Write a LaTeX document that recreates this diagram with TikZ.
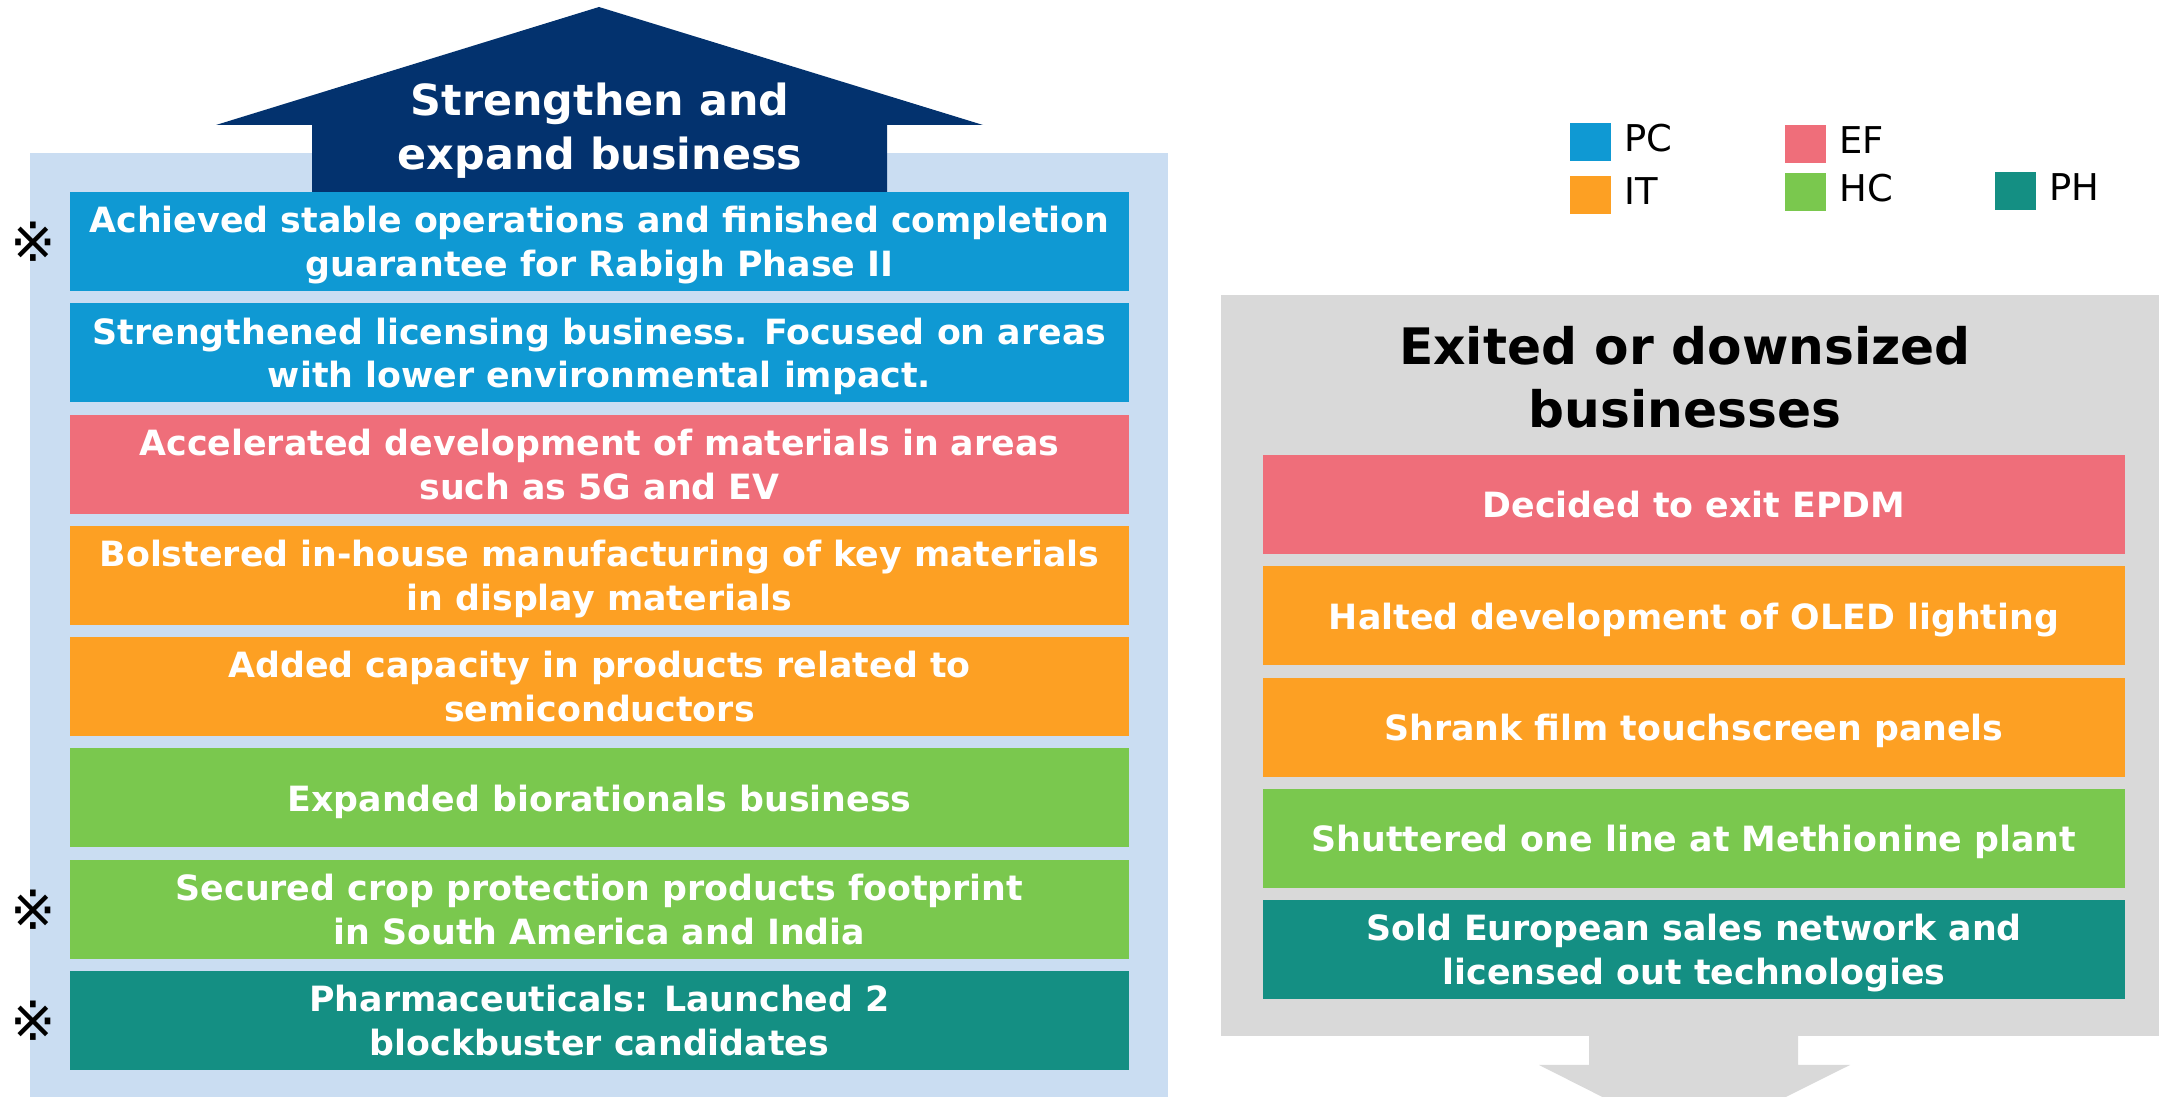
\documentclass[tikz,border=0pt]{standalone}
\usepackage{fontspec}
\setmainfont{DejaVu Sans}
\usetikzlibrary{positioning}
\definecolor{pcblue}{HTML}{0F99D3}
\definecolor{efred}{HTML}{EF6E7A}
\definecolor{itorange}{HTML}{FDA023}
\definecolor{hcgreen}{HTML}{7AC84E}
\definecolor{phteal}{HTML}{148F83}
\definecolor{panelblue}{HTML}{CADDF2}
\definecolor{arrownavy}{HTML}{03326E}
\definecolor{panelgray}{HTML}{D9D9D9}
\begin{document}
\begin{tikzpicture}[
        leftbox/.style={minimum width=10.59cm, minimum height=0.99cm, inner sep=0pt, text depth=0pt, align=center, text=white, font=\bfseries\fontsize{9.9}{12.5}\selectfont},
        rightbox/.style={leftbox, minimum width=8.62cm},
        key/.style={minimum width=0.41cm, minimum height=0.38cm, inner sep=0pt},
        keylabel/.style={right=0.12cm of #1, yshift=0.04cm, inner sep=0pt, font=\fontsize{10.5}{12}\selectfont},
        refmark/.style={inner sep=0pt, font=\fontsize{15.5}{15.5}\selectfont}]
                \useasboundingbox (0,0) rectangle (21.59,10.97);
                \fill [panelblue] (0.30,0) rectangle (11.68,9.44);
                \fill [arrownavy] (2.16,9.72) -- (5.99,10.90) -- (9.83,9.72) -- (8.87,9.72) -- (8.87,9.05) -- (3.12,9.05) -- (3.12,9.72) -- cycle;
                \node [text=white, align=center, font=\bfseries\fontsize{12.2}{15.3}\selectfont] (uptitle) at (6.0,9.66) {Strengthen and\\expand business};
                \node [leftbox, fill=pcblue] (rabigh) at (5.995,8.555) {Achieved stable operations and finished completion\\guarantee for Rabigh Phase II};
                \node [leftbox, fill=pcblue] (licensing) at (5.995,7.442) {Strengthened licensing business. Focused on areas\\with lower environmental impact.};
                \node [leftbox, fill=efred] (materials) at (5.995,6.329) {Accelerated development of materials in areas\\such as 5G and EV};
                \node [leftbox, fill=itorange] (display) at (5.995,5.216) {Bolstered in-house manufacturing of key materials\\in display materials};
                \node [leftbox, fill=itorange] (semicon) at (5.995,4.103) {Added capacity in products related to\\semiconductors};
                \node [leftbox, fill=hcgreen] (biorational) at (5.995,2.990) {Expanded biorationals business};
                \node [leftbox, fill=hcgreen] (crop) at (5.995,1.877) {Secured crop protection products footprint\\in South America and India};
                \node [leftbox, fill=phteal] (pharma) at (5.995,0.764) {Pharmaceuticals: Launched 2\\blockbuster candidates};
                \node [refmark] (markrabigh) at (0.33,8.555) {※};
                \node [refmark] (markcrop) at (0.33,1.877) {※};
                \node [refmark] (markpharma) at (0.33,0.764) {※};
                % legend
                \node [key, fill=pcblue] (pckey) at (15.905,9.55) {};
                \node [key, fill=itorange] (itkey) at (15.905,9.02) {};
                \node [key, fill=efred] (efkey) at (18.055,9.53) {};
                \node [key, fill=hcgreen] (hckey) at (18.055,9.05) {};
                \node [key, fill=phteal] (phkey) at (20.155,9.06) {};
                \node [keylabel=pckey] (pclabel) {PC};
                \node [keylabel=itkey] (itlabel) {IT};
                \node [keylabel=efkey] (eflabel) {EF};
                \node [keylabel=hckey] (hclabel) {HC};
                \node [keylabel=phkey] (phlabel) {PH};
                % exited businesses
                \fill [panelgray] (12.21,0.61) rectangle (21.59,8.02);
                \fill [panelgray] (15.89,0.61) -- (15.89,0.32) -- (15.39,0.32) -- (16.935,-0.46) -- (18.50,0.32) -- (17.98,0.32) -- (17.98,0.61) -- cycle;
                \node [align=center, font=\bfseries\fontsize{14.3}{17.9}\selectfont] (downtitle) at (16.85,7.20) {Exited or downsized\\businesses};
                \node [rightbox, fill=efred] (epdm) at (16.94,5.925) {Decided to exit EPDM};
                \node [rightbox, fill=itorange] (oled) at (16.94,4.812) {Halted development of OLED lighting};
                \node [rightbox, fill=itorange] (touch) at (16.94,3.699) {Shrank film touchscreen panels};
                \node [rightbox, fill=hcgreen] (methionine) at (16.94,2.586) {Shuttered one line at Methionine plant};
                \node [rightbox, fill=phteal] (european) at (16.94,1.473) {Sold European sales network and\\licensed out technologies};
            \end{tikzpicture}
\end{document}
